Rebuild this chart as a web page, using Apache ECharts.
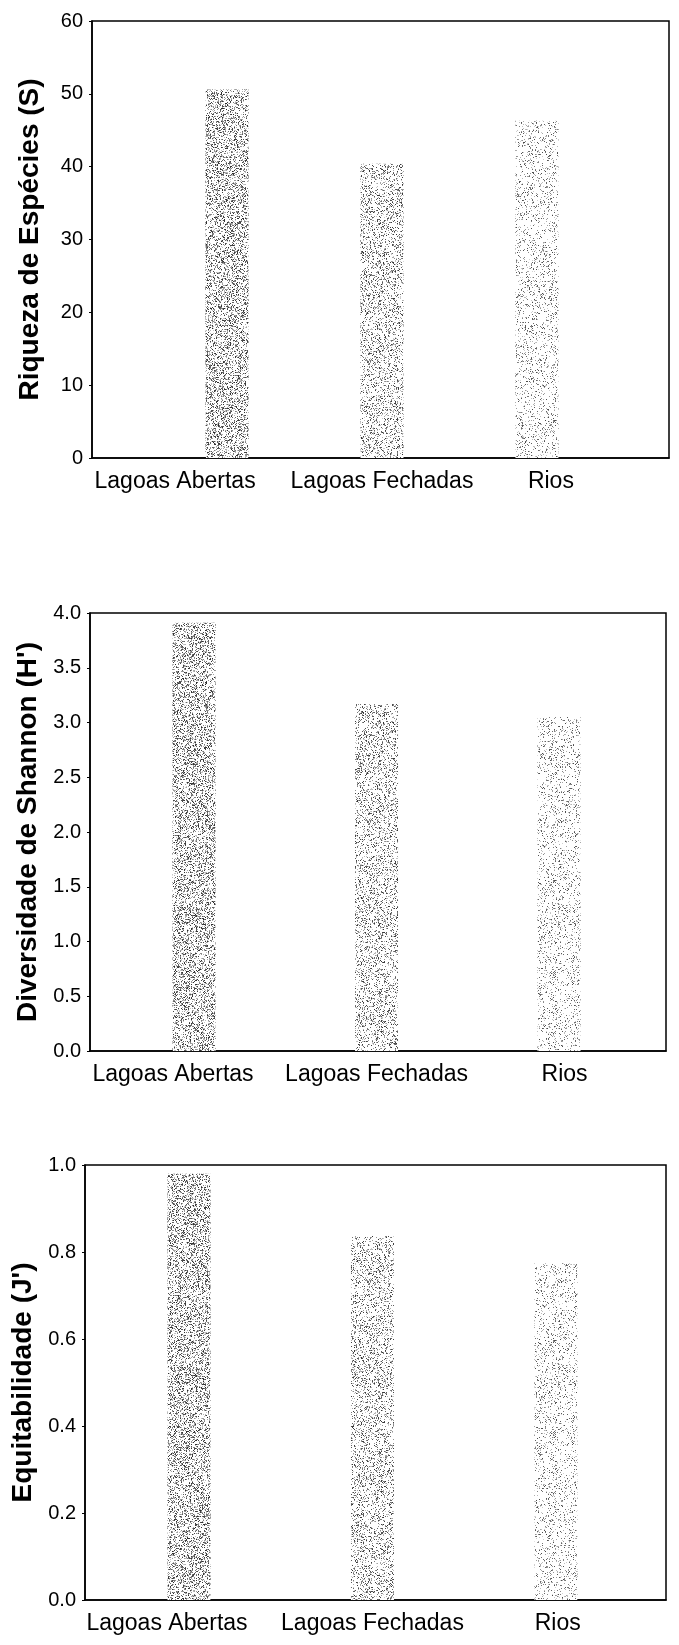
<!DOCTYPE html>
<html><head><meta charset="utf-8">
<script src="https://cdn.jsdelivr.net/npm/echarts@6/dist/echarts.min.js"></script>
<style>html,body{margin:0;padding:0;background:#fff}#c{width:679px;height:1645px}</style>
</head><body><div id="c"></div>
<script>
// ---- data ----
const categories = ['Lagoas Abertas', 'Lagoas Fechadas', 'Rios'];
const riqueza = [50.6, 40.4, 46.3];
const shannon = [3.91, 3.17, 3.05];
const equitabilidade = [0.98, 0.837, 0.774];
const yTitles = ['Riqueza de Espécies (S)', "Diversidade de Shannon (H')", "Equitabilidade (J')"];
const yMax = [60, 4, 1];
const yStep = [10, 0.5, 0.2];
const yDecimals = [0, 1, 1];

// ---- styles / layout ----
const FONT = "'Liberation Sans', Arial, Helvetica, sans-serif";
const grids = [
  {left: 92, top: 21, width: 577, height: 437},
  {left: 90, top: 613, width: 576, height: 438},
  {left: 85, top: 1165, width: 581, height: 435}
];
const xRange = [[-0.871, 2.852], [-0.57, 2.586], [-0.567, 2.60]];
const labelShift = [[-0.335, 0, 0.09], [-0.115, 0, 0.03], [-0.12, 0, 0.01]];

function makePattern(density, lo, hi, seed) {
  const w = 60, h = 460;
  const c = document.createElement('canvas'); c.width = w; c.height = h;
  const g = c.getContext('2d');
  g.fillStyle = '#fff'; g.fillRect(0, 0, w, h);
  let s = seed >>> 0;
  const rnd = () => { s = (Math.imul(s, 1103515245) + 12345) >>> 0; return (s >>> 8) / 16777216; };
  for (let y = 0; y < h; y++) for (let x = 0; x < w; x++) {
    if (rnd() < density) {
      const v = Math.floor(lo + rnd() * (hi - lo));
      g.fillStyle = 'rgb(' + v + ',' + v + ',' + v + ')';
      g.fillRect(x, y, 1, 1);
    }
  }
  return c;
}
const patterns = [makePattern(0.36, 40, 205, 11), makePattern(0.26, 50, 210, 23), makePattern(0.16, 70, 215, 37)];

const datasets = [riqueza, shannon, equitabilidade];
const option = {
  animation: false,
  backgroundColor: '#fff',
  grid: grids.map(g => Object.assign({show: true, borderColor: '#000', borderWidth: 1.5, backgroundColor: 'transparent'}, g)),
  xAxis: grids.map((g, k) => ({
    type: 'value', gridIndex: k, min: xRange[k][0], max: xRange[k][1],
    splitLine: {show: false},
    axisLine: {show: true, onZero: false, lineStyle: {color: '#000', width: 1.5}},
    axisTick: {show: false},
    axisLabel: {
      customValues: categories.map((_, i) => i + labelShift[k][i]),
      formatter: v => categories[Math.round(v)] || '',
      fontFamily: FONT, fontSize: 23, color: '#000', margin: 12
    }
  })),
  yAxis: grids.map((g, k) => ({
    type: 'value', gridIndex: k, min: 0, max: yMax[k], interval: yStep[k],
    splitLine: {show: false},
    axisLine: {show: true, onZero: false, lineStyle: {color: '#000', width: 1.5}},
    axisTick: {show: true, length: 3, lineStyle: {color: '#000', width: 1}},
    axisLabel: {
      formatter: v => v.toFixed(yDecimals[k]),
      fontFamily: FONT, fontSize: 20, color: '#000', margin: 9
    },
    name: yTitles[k], nameLocation: 'middle', nameGap: 48,
    nameTextStyle: {fontFamily: FONT, fontSize: 28, fontWeight: 'bold', color: '#000'}
  })),
  series: datasets.map((vals, k) => ({
    type: 'bar', xAxisIndex: k, yAxisIndex: k, barWidth: 43,
    data: vals.map((v, i) => ({value: [i, v], itemStyle: {color: {image: patterns[i], repeat: 'repeat'}}}))
  }))
};
const chart = echarts.init(document.getElementById('c'), null, {renderer: 'canvas'});
chart.setOption(option);
</script>
</body></html>
